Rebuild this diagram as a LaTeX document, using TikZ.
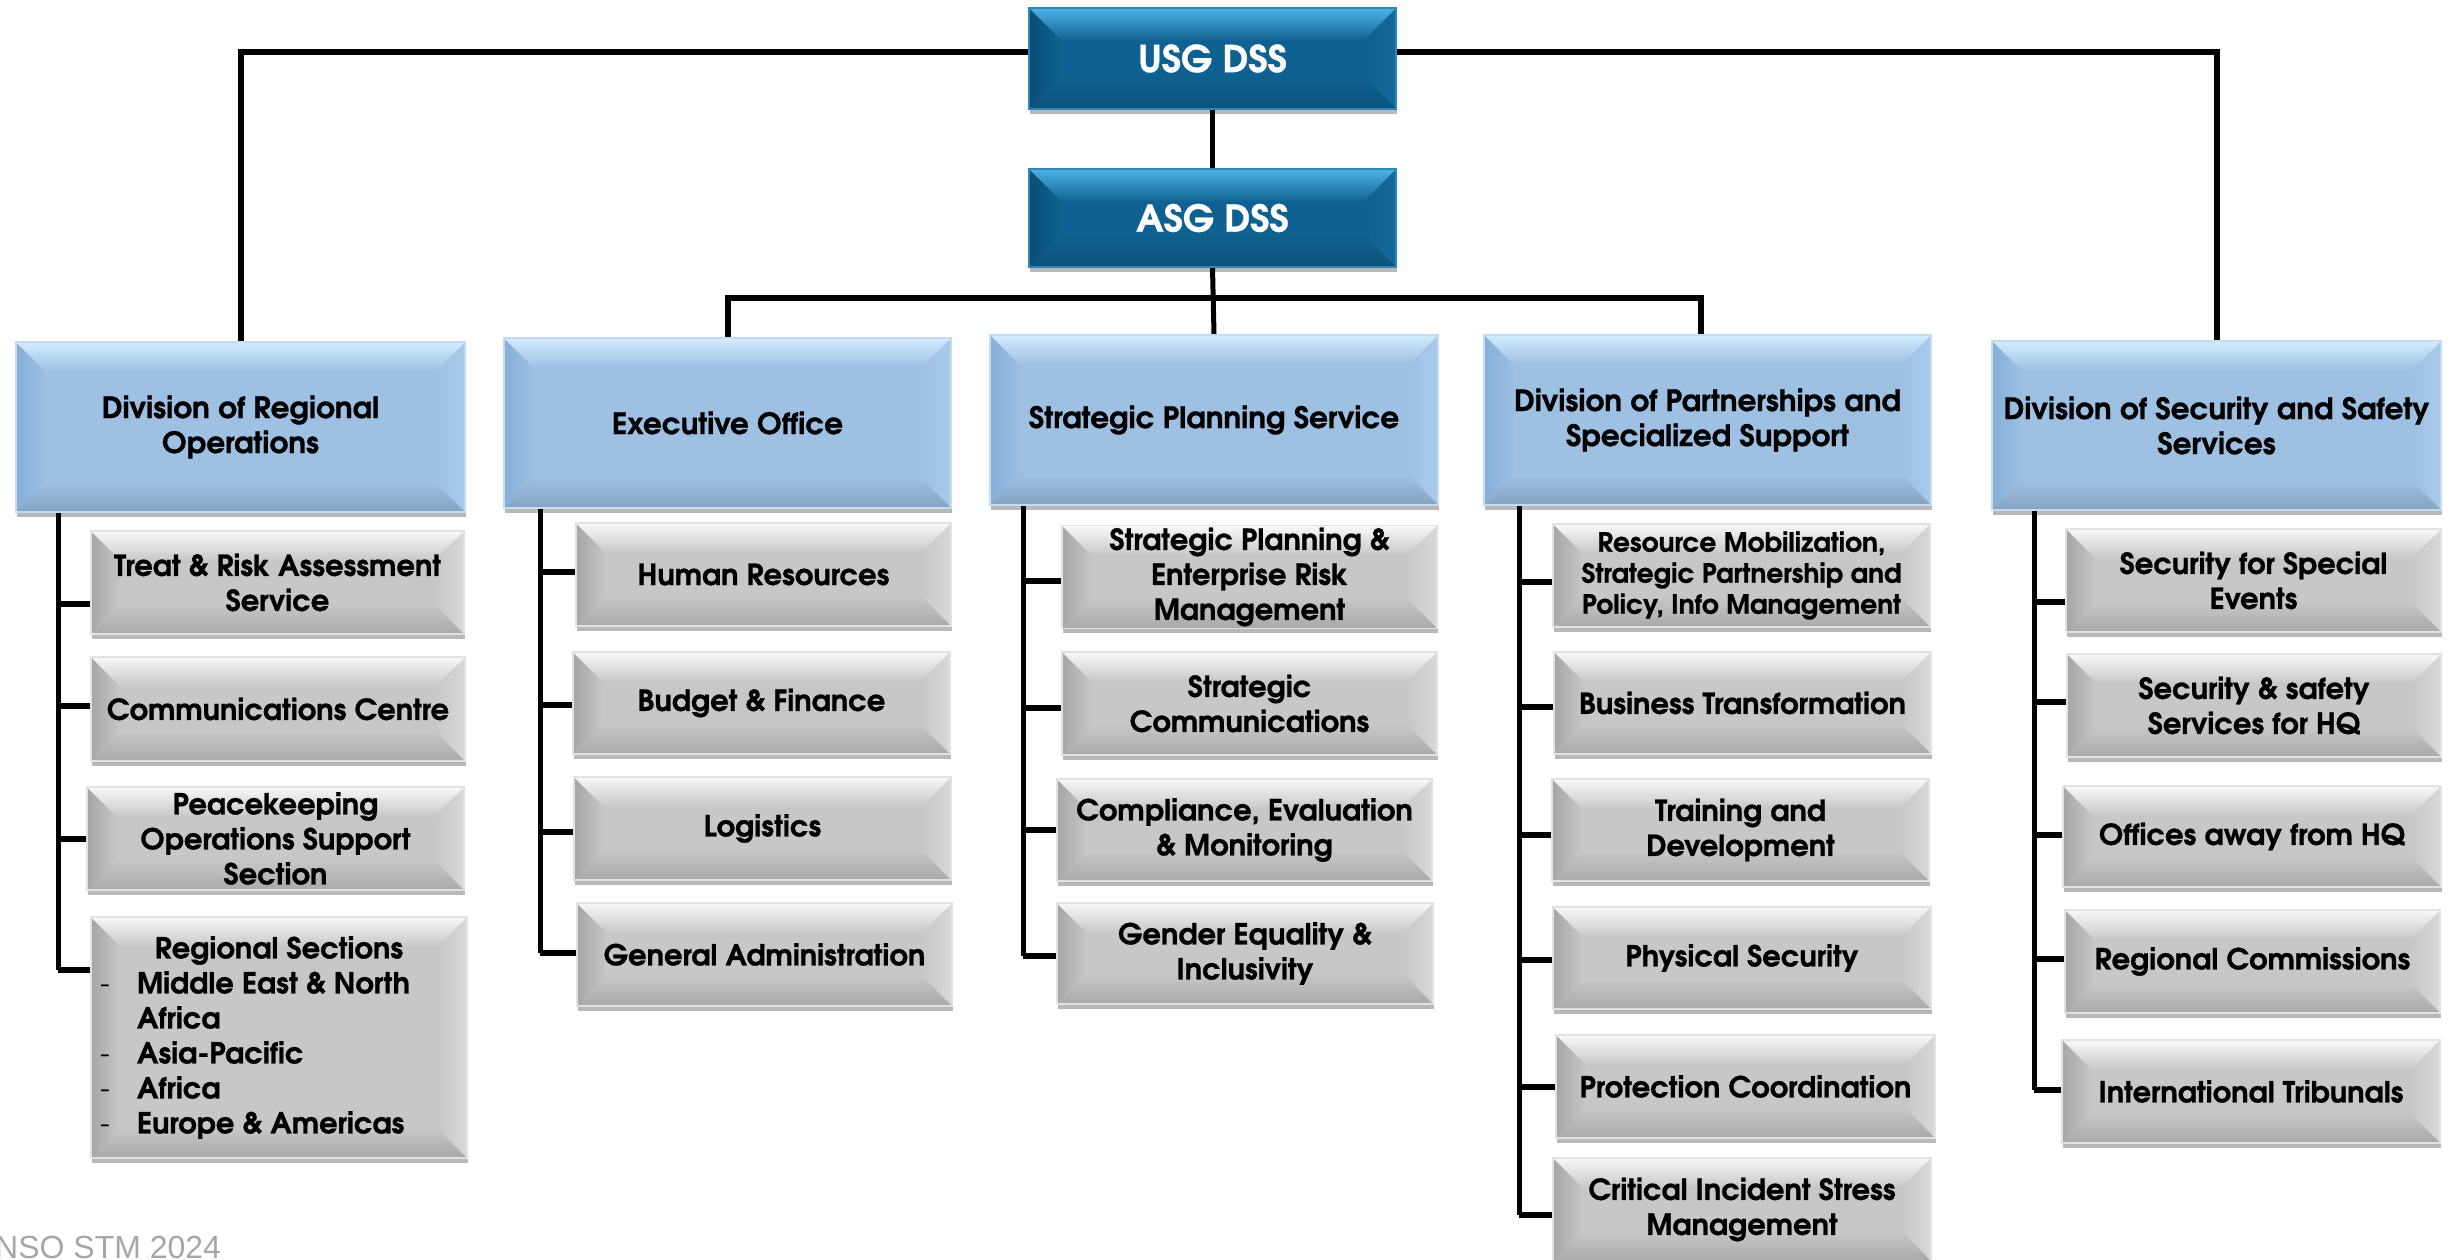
\documentclass[tikz,border=0pt]{standalone}
\usepackage{fontspec}
\setmainfont{texgyreadventor}[Extension=.otf, UprightFont=*-regular, BoldFont=*-bold, ItalicFont=*-italic, BoldItalicFont=*-bolditalic, BoldFeatures={FakeBold=0.8}]
\newfontfamily\footfont{Liberation Sans}
\usetikzlibrary{shadows,calc}
\pgfdeclarelayer{background}
\pgfsetlayers{background,main}
\definecolor{dkbase}{HTML}{0F6191}
\definecolor{dktop}{HTML}{4DB2E6}
\definecolor{dkleft}{HTML}{0A4E76}
\definecolor{dkright}{HTML}{13699A}
\definecolor{dkedge}{HTML}{2F86BC}
\definecolor{lbbase}{HTML}{9DC0E3}
\definecolor{lbtop}{HTML}{D3EBFE}
\definecolor{lbleft}{HTML}{86AED8}
\definecolor{lbright}{HTML}{A9CAEB}
\definecolor{lbedge}{HTML}{C4DCF3}
\definecolor{grbase}{HTML}{C7C7C7}
\definecolor{grtop}{HTML}{F8F8F8}
\definecolor{grleft}{HTML}{A6A6A6}
\definecolor{grright}{HTML}{D8D8D8}
\definecolor{gredge}{HTML}{E2E2E2}
\definecolor{foottext}{HTML}{A6A6A6}
\tikzset{
  bev/.style n args={6}{rectangle, inner sep=2pt, align=center,
    fill=#1, draw=#6, line width=1.3pt,
    drop shadow={shadow xshift=1pt, shadow yshift=-5pt, opacity=0.28, fill=black},
    path picture={
      \coordinate (bvnw) at (path picture bounding box.north west);
      \coordinate (bvne) at (path picture bounding box.north east);
      \coordinate (bvsw) at (path picture bounding box.south west);
      \coordinate (bvse) at (path picture bounding box.south east);
      \shade[left color=#3, right color=#1] (bvnw) -- ([xshift=#5,yshift=-#5]bvnw) -- ([xshift=#5,yshift=#5]bvsw) -- (bvsw) -- cycle;
      \shade[left color=#1, right color=#4] (bvne) -- ([xshift=-#5,yshift=-#5]bvne) -- ([xshift=-#5,yshift=#5]bvse) -- (bvse) -- cycle;
      \shade[top color=#1, bottom color=#1!85!black] (bvsw) -- ([xshift=#5,yshift=#5]bvsw) -- ([xshift=-#5,yshift=#5]bvse) -- (bvse) -- cycle;
      \shade[top color=#2, bottom color=#1] (bvnw) -- (bvne) -- ([xshift=-#5,yshift=-#5]bvne) -- ([xshift=#5,yshift=-#5]bvnw) -- cycle;
    }},
  topbox/.style={bev={dkbase}{dktop}{dkleft}{dkright}{33pt}{dkedge}, text=white,
    font=\fontsize{37}{44}\selectfont\bfseries},
  divbox/.style={bev={lbbase}{lbtop}{lbleft}{lbright}{30pt}{lbedge},
    font=\fontsize{29.5}{35}\selectfont\bfseries},
  subbox/.style={bev={grbase}{grtop}{grleft}{grright}{30pt}{gredge},
    font=\fontsize{29}{35}\selectfont\bfseries},
  link/.style={line width=6pt, black},
  spine/.style={line width=5pt, black},
}
% \obox{name}{x1}{y1}{x2}{y2}{style}{text}
\newcommand\obox[7]{\node[#6, minimum width={(#4)-(#2)}, minimum height={(#5)-(#3)}] (#1) at ({((#2)+(#4))/2},{((#3)+(#5))/2}) {#7};}
% \otick{spine coordinate}{box}{fraction from top}
\newcommand\otick[3]{\path ($(#2.north west)!#3!(#2.south west)$) coordinate (tk-#2);
  \draw[link] (tk-#2) -- (tk-#2 -| #1);}
\begin{document}
\begin{tikzpicture}[x=1pt,y=-1pt]
\useasboundingbox (0,0) rectangle (2453,1259);
% top level
\obox{usg}{1029}{8}{1396}{109}{topbox}{USG DSS}
\obox{asg}{1029}{169}{1396}{267}{topbox}{ASG DSS}
% divisions
\obox{dro}{16}{342}{465}{512}{divbox}{Division of Regional\\Operations}
\obox{eo}{504}{338}{951}{508}{divbox}{Executive Office}
\obox{sps}{990}{335}{1438}{505}{divbox}{Strategic Planning Service}
\obox{dpss}{1484}{335}{1931}{505}{divbox}{Division of Partnerships and\\Specialized Support}
\obox{dsss}{1992}{341}{2441}{510}{divbox}{Division of Security and Safety\\Services}
% DRO children
\obox{treat}{91}{531}{464}{634}{subbox}{Treat \& Risk Assessment\\Service}
\obox{comm}{91}{657}{465}{761}{subbox}{Communications Centre}
\obox{peace}{87}{787}{464}{890}{subbox}{Peacekeeping\\Operations Support\\Section}
\obox{reg}{91}{917}{467}{1158}{subbox, align=left, inner xsep=8pt}{\makebox[358pt][c]{Regional Sections}\\
  \makebox[37pt][l]{\mdseries -}Middle East \& North\\
  \hspace*{37pt}Africa\\
  \makebox[37pt][l]{\mdseries -}Asia-Pacific\\
  \makebox[37pt][l]{\mdseries -}Africa\\
  \makebox[37pt][l]{\mdseries -}Europe \& Americas}
% EO children
\obox{hr}{576}{523}{951}{626}{subbox}{Human Resources}
\obox{bud}{573}{652}{950}{754}{subbox}{Budget \& Finance}
\obox{logi}{574}{777}{951}{880}{subbox}{Logistics}
\obox{gen}{577}{903}{952}{1006}{subbox}{General Administration}
% SPS children
\obox{sperm}{1062}{526}{1437}{628}{subbox}{Strategic Planning \&\\Enterprise Risk\\Management}
\obox{scom}{1062}{652}{1437}{755}{subbox}{Strategic\\Communications}
\obox{comp}{1057}{779}{1432}{881}{subbox}{Compliance, Evaluation\\\& Monitoring}
\obox{gend}{1057}{903}{1433}{1004}{subbox}{Gender Equality \&\\Inclusivity}
% DPSS children
\obox{res}{1553}{524}{1930}{627}{subbox, font=\fontsize{26.5}{31}\selectfont\bfseries}{Resource Mobilization,\\Strategic Partnership and\\Policy, Info Management}
\obox{biz}{1554}{652}{1931}{754}{subbox}{Business Transformation}
\obox{trn}{1552}{779}{1929}{881}{subbox}{Training and\\Development}
\obox{phy}{1553}{907}{1931}{1009}{subbox}{Physical Security}
\obox{pro}{1556}{1035}{1935}{1138}{subbox}{Protection Coordination}
\obox{cis}{1553}{1158}{1931}{1261}{subbox}{Critical Incident Stress\\Management}
% DSSS children
\obox{spe}{2066}{529}{2441}{632}{subbox}{Security for Special\\Events}
\obox{shq}{2067}{654}{2441}{757}{subbox}{Security \& safety\\Services for HQ}
\obox{off}{2063}{786}{2441}{887}{subbox}{Offices away from HQ}
\obox{rcm}{2065}{910}{2440}{1013}{subbox}{Regional Commissions}
\obox{itr}{2062}{1040}{2440}{1143}{subbox}{International Tribunals}
% footer
\node[font=\footfont\fontsize{32}{38}\selectfont, text=foottext, anchor=base west, inner sep=0pt] (foot) at (-5,1258) {NSO STM 2024};
% connectors
\begin{pgfonlayer}{background}
  \draw[link] ([yshift=7pt]usg.west) -| (dro.north);
  \draw[link] ([yshift=7pt]usg.east) -| (dsss.north);
  \draw[spine] (usg.south) -- (asg.north);
  \draw[spine] (asg.south) -- (sps.north);
  \coordinate (bar) at (asg.south |- 0,298);
  \draw[link] (eo.north) |- (bar) -| ([xshift=-7pt]dpss.north);
  % spines
  \coordinate (droS) at ([xshift=43pt]dro.south west);
  \coordinate (eoS) at ([xshift=37pt]eo.south west);
  \coordinate (spsS) at ([xshift=34pt]sps.south west);
  \coordinate (dpssS) at ([xshift=36pt]dpss.south west);
  \coordinate (dsssS) at ([xshift=43pt]dsss.south west);
  \otick{droS}{treat}{0.71}
  \otick{droS}{comm}{0.47}
  \otick{droS}{peace}{0.5}
  \otick{droS}{reg}{0.22}
  \draw[spine] (droS) -- (droS |- tk-reg);
  \otick{eoS}{hr}{0.48}
  \otick{eoS}{bud}{0.52}
  \otick{eoS}{logi}{0.53}
  \otick{eoS}{gen}{0.49}
  \draw[spine] (eoS) -- (eoS |- tk-gen);
  \otick{spsS}{sperm}{0.54}
  \otick{spsS}{scom}{0.54}
  \otick{spsS}{comp}{0.5}
  \otick{spsS}{gend}{0.52}
  \draw[spine] (spsS) -- (spsS |- tk-gend);
  \otick{dpssS}{res}{0.56}
  \otick{dpssS}{biz}{0.54}
  \otick{dpssS}{trn}{0.55}
  \otick{dpssS}{phy}{0.52}
  \otick{dpssS}{pro}{0.5}
  \otick{dpssS}{cis}{0.55}
  \draw[spine] (dpssS) -- (dpssS |- tk-cis);
  \otick{dsssS}{spe}{0.71}
  \otick{dsssS}{shq}{0.47}
  \otick{dsssS}{off}{0.49}
  \otick{dsssS}{rcm}{0.48}
  \otick{dsssS}{itr}{0.49}
  \draw[spine] (dsssS) -- (dsssS |- tk-itr);
\end{pgfonlayer}
\end{tikzpicture}
\end{document}
